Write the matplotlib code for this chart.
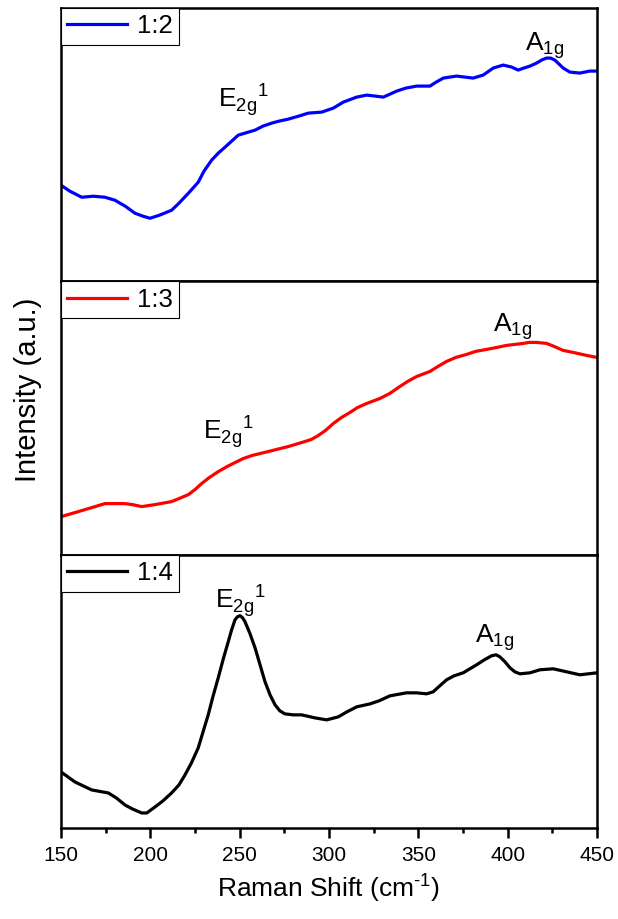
import matplotlib
matplotlib.use("Agg")
import matplotlib.pyplot as plt
from matplotlib.ticker import MultipleLocator

plt.rcParams["font.family"] = ["Liberation Sans", "DejaVu Sans"]
plt.rcParams["mathtext.fontset"] = "custom"
plt.rcParams["mathtext.rm"] = "Liberation Sans"
plt.rcParams["axes.unicode_minus"] = False

# Raman spectra, intensity in arbitrary units (each panel on its own scale)
shift_12 = [150, 155, 161.6, 168, 174.6, 180.2, 186, 191.4, 196, 199.8,
            205, 211.9, 216, 221.3, 226.8, 230, 234.3, 238, 241.8, 245.5,
            249.2, 254.8, 258.6, 263, 267.9, 272, 277.2, 283, 288.4, 295.9,
            302.4, 308, 315.5, 321.1, 326, 330.4, 337.9, 343, 349.1, 356.5,
            360, 364, 371.4, 376, 380.7, 386.3, 391.9, 397.5, 402.2, 405.9,
            409, 412.5, 416.2, 419, 421.8, 424, 426.4, 431.1, 434.8, 440.4,
            446, 450]
int_12 = [96, 90, 84, 85, 84, 81, 75, 68, 65, 63,
          66, 71, 78, 88, 99, 110, 121, 128, 134, 140,
          146, 149, 151, 155, 158, 160, 162, 165, 168, 169,
          173, 179, 184, 186, 185, 184, 190, 193, 195, 195,
          199, 203, 205, 204, 203, 206, 213, 216, 214, 211,
          213, 215, 218, 221, 223, 223, 221, 213, 209, 208,
          210, 210]

shift_13 = [150, 159.7, 167.2, 174.6, 180, 185.8, 190, 195.2, 202.6, 211.9,
            216, 221.3, 225, 228.7, 233, 238, 243, 247.4, 252, 256.8,
            266, 277.2, 284.7, 290, 294, 298, 302.4, 307, 311.7, 316,
            321.1, 328.5, 334, 339.7, 344, 349.1, 356.5, 361, 365.8, 371,
            377, 382, 388.2, 394, 399.4, 404, 408.7, 412, 416.2, 421.8,
            426, 431.1, 436.7, 444.2, 450]
int_13 = [38, 43, 47, 51, 51, 51, 50, 48, 50, 53,
          56, 60, 65, 71, 77, 83, 88, 92, 96, 99,
          103, 108, 112, 115, 119, 124, 131, 137, 142, 147,
          151, 156, 161, 168, 173, 178, 183, 188, 193, 197,
          200, 203, 205, 207, 209, 210, 211, 212, 212, 211,
          208, 204, 202, 199, 197]

shift_14 = [150, 157.8, 167.2, 176.5, 181, 185.8, 190, 195.2, 198, 202.6,
            207, 211.9, 216, 219.4, 223, 226.8, 229.5, 232.4, 235, 238,
            241, 243.6, 245.5, 247.4, 248.8, 250.2, 251.6, 253, 255.8, 258.6,
            261.4, 264.2, 267, 269.8, 272.5, 275.3, 280, 284.7, 292.1, 298.7,
            305.2, 310, 315.5, 323, 328, 334.1, 343.4, 349, 354.6, 358.3,
            362, 365.8, 370, 375.1, 382.6, 387, 391, 393.5, 395.6, 398.5,
            401.3, 404, 406.9, 412.5, 418, 425.5, 433, 440.4, 450]
int_14 = [56, 46, 38, 35, 30, 23, 19, 15, 15, 21,
          27, 35, 43, 53, 65, 80, 96, 113, 131, 150,
          170, 186, 198, 208, 211, 212, 210, 206, 194, 180,
          163, 146, 133, 123, 117, 114, 113, 113, 110, 108,
          111, 116, 121, 124, 127, 132, 135, 135, 134, 136,
          142, 148, 152, 155, 163, 168, 172, 173, 171, 166,
          160, 156, 154, 155, 158, 159, 156, 153, 155]

labels = ["1:2", "1:3", "1:4"]
colors = ["#0000ff", "#ff0000", "#000000"]

# peak label anchors (shift, intensity) per panel
e2g_pos = [(237.9, 174), (229.5, 115), (236.2, 220)]
a1g_pos = [(409.6, 231), (391.7, 223), (381.7, 185)]
e2g_text = r"E$_{\mathregular{2g}}$$^{\mathregular{1}}$"
a1g_text = r"A$_{\mathregular{1g}}$"

series = [(shift_12, int_12), (shift_13, int_13), (shift_14, int_14)]

fig, axes = plt.subplots(3, 1, figsize=(6.18, 9.19), dpi=100, sharex=True)
fig.subplots_adjust(left=61 / 618, right=597 / 618, top=1 - 8 / 919,
                    bottom=1 - 828 / 919, hspace=0)

for i, ax in enumerate(axes):
    x, y = series[i]
    ax.plot(x, y, color=colors[i], lw=2.3, label=labels[i])
    ax.set_xlim(150, 450)
    ax.set_ylim(0, 273)
    ax.set_yticks([])
    for sp in ax.spines.values():
        sp.set_linewidth(1.8)
    ax.text(e2g_pos[i][0], e2g_pos[i][1], e2g_text, fontsize=19,
            ha="left", va="baseline")
    ax.text(a1g_pos[i][0], a1g_pos[i][1], a1g_text, fontsize=19,
            ha="left", va="baseline")
    leg = ax.legend(loc="upper left", borderaxespad=0, fancybox=False,
                    framealpha=1, edgecolor="black", fontsize=18.5,
                    handlelength=2.3, handletextpad=0.4, borderpad=0.25)
    leg.get_frame().set_linewidth(0.8)
    ax.tick_params(axis="x", which="both", bottom=False, labelbottom=False)

bottom = axes[-1]
bottom.xaxis.set_major_locator(MultipleLocator(50))
bottom.xaxis.set_minor_locator(MultipleLocator(25))
bottom.tick_params(axis="x", which="major", bottom=True, labelbottom=True,
                   direction="out", length=7, width=1.8, labelsize=15, pad=6)
bottom.tick_params(axis="x", which="minor", bottom=True,
                   direction="out", length=3.5, width=1.8)
bottom.set_xlabel(r"Raman Shift (cm$^{\text{-1}}$)", fontsize=19, labelpad=4)

fig.text(28 / 618, 1 - 390 / 919, "Intensity (a.u.)", rotation=90,
         fontsize=21, ha="center", va="center")

fig.savefig("out.png", dpi=100)
